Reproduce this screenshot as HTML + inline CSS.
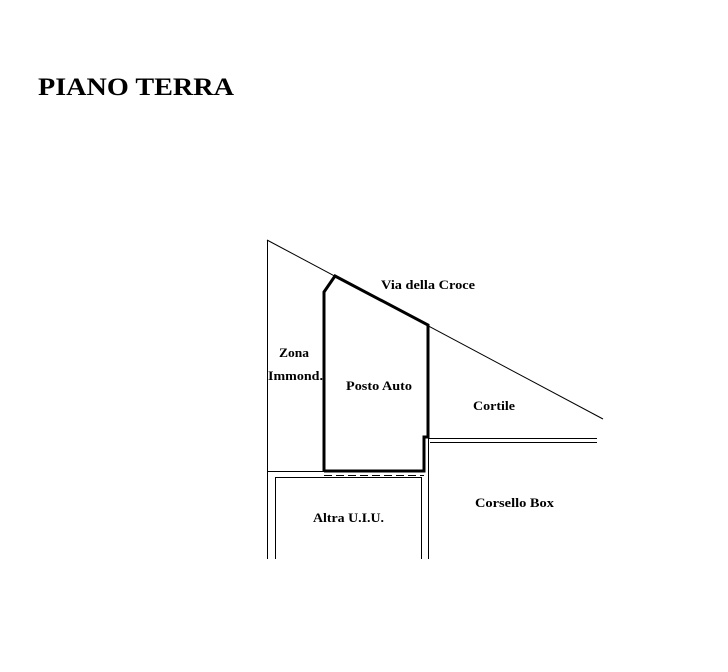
<!DOCTYPE html>
<html><head><meta charset="utf-8"><style>
html,body{margin:0;padding:0;background:#fff;}
svg{display:block;}
text{font-family:"Liberation Serif",serif;font-weight:bold;fill:#000;}
</style></head><body>
<svg width="728" height="672" viewBox="0 0 728 672" xmlns="http://www.w3.org/2000/svg">
<rect width="728" height="672" fill="#fff"/>
<text x="38" y="95" font-size="25" textLength="196" lengthAdjust="spacingAndGlyphs">PIANO TERRA</text>
<g stroke="#000" fill="none">
<line x1="267.5" y1="240" x2="267.5" y2="559" stroke-width="1"/>
<line x1="267" y1="240" x2="603" y2="419" stroke-width="1"/>
<line x1="267" y1="471.5" x2="324" y2="471.5" stroke-width="1"/>
<polyline points="324,471 324,292 335,276 428,325 428,437 424,437 424,471 324,471" stroke-width="3" stroke-linejoin="miter"/>
<line x1="428.5" y1="437" x2="428.5" y2="559" stroke-width="1"/>
<line x1="428" y1="438.5" x2="597" y2="438.5" stroke-width="1"/>
<line x1="430" y1="442.5" x2="597" y2="442.5" stroke-width="1"/>
<line x1="324" y1="475.5" x2="424" y2="475.5" stroke-width="1" stroke-dasharray="8,4"/>
<polyline points="275.5,559 275.5,477.5 421.5,477.5 421.5,559" stroke-width="1"/>
</g>
<g font-size="13">
<text x="381" y="289" textLength="94" lengthAdjust="spacingAndGlyphs">Via della Croce</text>
<text x="279" y="357" textLength="30" lengthAdjust="spacingAndGlyphs">Zona</text>
<text x="268" y="380" textLength="55" lengthAdjust="spacingAndGlyphs">Immond.</text>
<text x="346" y="390" textLength="66" lengthAdjust="spacingAndGlyphs">Posto Auto</text>
<text x="473" y="410" textLength="42" lengthAdjust="spacingAndGlyphs">Cortile</text>
<text x="475" y="507" textLength="79" lengthAdjust="spacingAndGlyphs">Corsello Box</text>
<text x="313" y="522" textLength="71" lengthAdjust="spacingAndGlyphs">Altra U.I.U.</text>
</g>
</svg>
</body></html>
